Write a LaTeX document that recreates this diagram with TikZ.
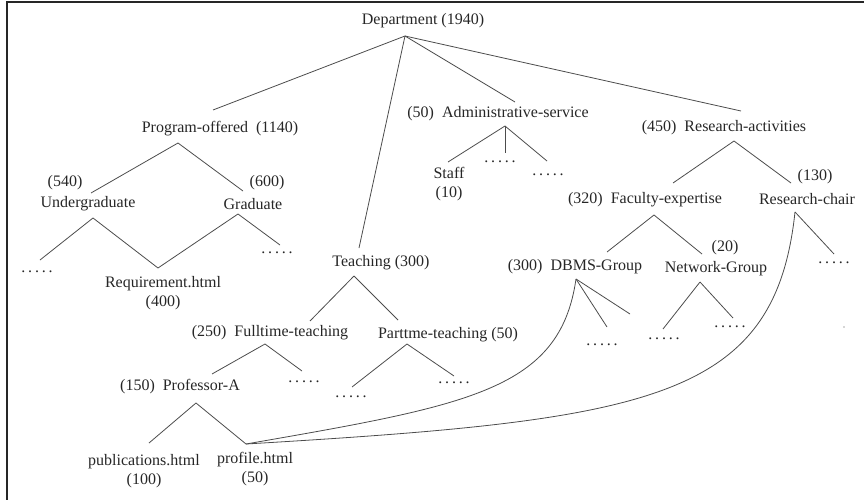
\documentclass[tikz,border=0pt]{standalone}
\usepackage{fontspec}
\setmainfont{Liberation Serif}
\colorlet{edgc}{black!70}
\newcommand{\fivedots}{.\kern2.8pt.\kern2.8pt.\kern2.8pt.\kern2.8pt.}

\begin{document}
\begin{tikzpicture}[
        x=1pt, y=-1pt,
        every node/.style={inner sep=0pt, text=black!85, font=\fontsize{16}{19}\selectfont},
        twoline/.style={align=center},
        edge/.style={edgc, line width=0.8pt}
    ]
        \useasboundingbox (0,0) rectangle (864,500);
        \draw [black!85, line width=1.1pt] (7,500) -- (7,2) -- (864,2);

        % labels
        \node (dept) at (423,21) {Department (1940)};
        \node (prog) at (220,129) {Program-offered\ \ (1140)};
        \node (admin) at (498,114) {(50)\ \ Administrative-service};
        \node (research) at (724,128) {(450)\ \ Research-activities};
        \node (ugradn) at (65,183) {(540)};
        \node (ugrad) at (88,204) {Undergraduate};
        \node (gradn) at (267,183) {(600)};
        \node (grad) at (253,204) {Graduate};
        \node [twoline] (req) at (163,293) {Requirement.html\\(400)};
        \node [twoline] (staff) at (449,184) {Staff\\(10)};
        \node (teach) at (381,263) {Teaching (300)};
        \node (full) at (270,333) {(250)\ \ Fulltime-teaching};
        \node (part) at (448,335) {Parttme-teaching (50)};
        \node (prof) at (180,387) {(150)\ \ Professor-A};
        \node [twoline] (pub) at (144,471) {publications.html\\(100)};
        \node [twoline] (profile) at (255,469) {profile.html\\(50)};
        \node (fac) at (645,200) {(320)\ \ Faculty-expertise};
        \node (chairn) at (815,177) {(130)};
        \node (chair) at (807,199) {Research-chair};
        \node (dbms) at (575,267) {(300)\ \ DBMS-Group};
        \node (netn) at (725,248) {(20)};
        \node (net) at (716,269) {Network-Group};

        \foreach \n/\x/\y in {dug/37/272, dgr/277/253, dad1/500/162, dad2/548/175,
                dft/304/382, dpt1/351/397, dpt2/454/383, ddb/602/345,
                dnt1/664/339, dnt2/730/327, drc/834/263} {
            \node (\n) at (\x,\y) {\fivedots};
        }

        % ends of the branches
        \coordinate (dept-b) at (405,36);
        \coordinate (prog-t) at (213,110);
        \coordinate (teach-t) at (359,248);
        \coordinate (admin-t) at (515,102);
        \coordinate (research-t) at (741,111);
        \coordinate (prog-b) at (178,143);
        \coordinate (ugrad-t) at (91,193);
        \coordinate (grad-t) at (243,191);
        \coordinate (ugrad-b) at (93,218);
        \coordinate (ug-l) at (40,260);
        \coordinate (req-t) at (158,268);
        \coordinate (grad-b) at (238,214);
        \coordinate (gr-r) at (280,245);
        \coordinate (admin-b) at (505,126);
        \coordinate (ad-l) at (448,162);
        \coordinate (ad-m) at (505,153);
        \coordinate (ad-r) at (547,161);
        \coordinate (research-b) at (734,141);
        \coordinate (fac-t) at (673,183);
        \coordinate (chair-t) at (791,183);
        \coordinate (teach-b) at (354,276);
        \coordinate (full-t) at (310,321);
        \coordinate (part-t) at (398,320);
        \coordinate (full-b) at (265,344);
        \coordinate (prof-t) at (212,374);
        \coordinate (ft-r) at (302,371);
        \coordinate (part-b) at (407,344);
        \coordinate (pt-l) at (352,387);
        \coordinate (pt-r) at (454,376);
        \coordinate (prof-b) at (196,403);
        \coordinate (pub-t) at (149,443);
        \coordinate (profile-t) at (246,444);
        \coordinate (fac-b) at (654,215);
        \coordinate (dbms-t) at (607,252);
        \coordinate (net-t) at (702,254);
        \coordinate (chair-b) at (795,212);
        \coordinate (rc-r) at (834,254);
        \coordinate (dbms-b) at (576,279);
        \coordinate (db-1) at (607,327);
        \coordinate (db-2) at (630,314);
        \coordinate (net-b) at (700,282);
        \coordinate (nt-l) at (663,329);
        \coordinate (nt-r) at (733,318);

        \foreach \a/\b in {dept-b/prog-t, dept-b/teach-t, dept-b/admin-t, dept-b/research-t,
                prog-b/ugrad-t, prog-b/grad-t, ugrad-b/ug-l, ugrad-b/req-t, grad-b/req-t, grad-b/gr-r,
                admin-b/ad-l, admin-b/ad-m, admin-b/ad-r, research-b/fac-t, research-b/chair-t,
                teach-b/full-t, teach-b/part-t, full-b/prof-t, full-b/ft-r, part-b/pt-l, part-b/pt-r,
                prof-b/pub-t, prof-b/profile-t, fac-b/dbms-t, fac-b/net-t, chair-b/rc-r,
                dbms-b/db-1, dbms-b/db-2, net-b/nt-l, net-b/nt-r} {
            \draw [edge] (\a) -- (\b);
        }

        % links back to profile.html
        \draw [edge] (dbms-b) .. controls (560,390) and (470,405) .. (profile-t);
        \draw [edge] (chair-b) .. controls (775,400) and (650,420) .. (profile-t);

        \fill [black!70] (844,327) circle [radius=0.7pt];
    \end{tikzpicture}
\end{document}
